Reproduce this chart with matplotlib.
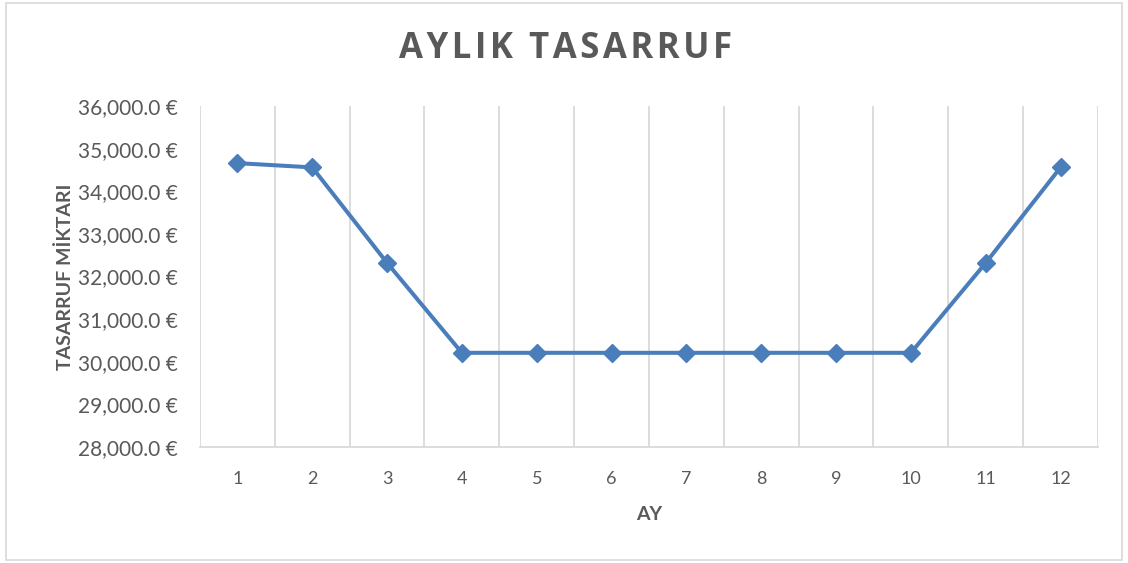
import matplotlib
matplotlib.use("Agg")
import matplotlib.pyplot as plt
import matplotlib.patches as mpatches
from matplotlib.ticker import FuncFormatter, MultipleLocator

# ── Data ──────────────────────────────────────────────────────────────────────
months = [1, 2, 3, 4, 5, 6, 7, 8, 9, 10, 11, 12]
savings = [34660, 34560, 32320, 30210, 30210, 30210, 30210,
           30210, 30210, 30210, 32320, 34560]

title = "AYLIK TASARRUF"
x_label = "AY"
y_label = "TASARRUF MİKTARI"

# ── Style ─────────────────────────────────────────────────────────────────────
_LINE = "#4a7ebb"
_TEXT = "#595959"
_GRID = "#d9d9d9"
_FONT = ["Lato", "DejaVu Sans"]

plt.rcParams["font.family"] = _FONT

fig = plt.figure(figsize=(11.28, 5.63), dpi=100, facecolor="white")
ax = fig.add_axes([0.1773, 0.206, 0.7961, 0.6057])

ax.plot(months, savings, color=_LINE, linewidth=2.9, marker="D",
        markersize=9, markerfacecolor=_LINE, markeredgecolor=_LINE, zorder=3)

# Category axis: labels at centres, gridlines between categories
ax.set_xlim(0.5, 12.5)
ax.set_xticks(months)
ax.set_xticklabels([str(m) for m in months])
ax.xaxis.set_minor_locator(MultipleLocator(1, offset=0.5))
ax.grid(True, which="minor", axis="x", color=_GRID, linewidth=1.3, zorder=0)
ax.tick_params(axis="x", which="both", length=0, pad=17, labelsize=13, colors=_TEXT)

ax.set_ylim(28000, 36000)
ax.set_yticks(range(28000, 36001, 1000))
ax.yaxis.set_major_formatter(FuncFormatter(lambda v, _: f"{v:,.1f} €"))
ax.tick_params(axis="y", length=0, pad=16, labelsize=15, colors=_TEXT)

for side in ("top", "right", "left"):
    ax.spines[side].set_visible(False)
ax.spines["bottom"].set_color(_GRID)
ax.spines["bottom"].set_linewidth(1.3)

ax.set_xlabel(x_label, fontsize=14, fontweight="bold", color=_TEXT, labelpad=14)
ax.set_ylabel(y_label, fontsize=14, fontweight="bold", color=_TEXT, labelpad=3)

# Excel-style letter spacing on the title via hair spaces
spaced_title = "\u200a".join(title)
fig.text(0.501, 0.913, spaced_title, ha="center", va="center", fontsize=25,
         fontweight="bold", color=_TEXT, family=["Open Sans", "DejaVu Sans"])

# Chart border
fig.patches.append(mpatches.Rectangle(
    (0.005, 0.005), 0.99, 0.99, transform=fig.transFigure,
    facecolor="none", edgecolor=_GRID, linewidth=1.2))

fig.savefig("out.png", dpi=100, facecolor="white")
plt.close(fig)
